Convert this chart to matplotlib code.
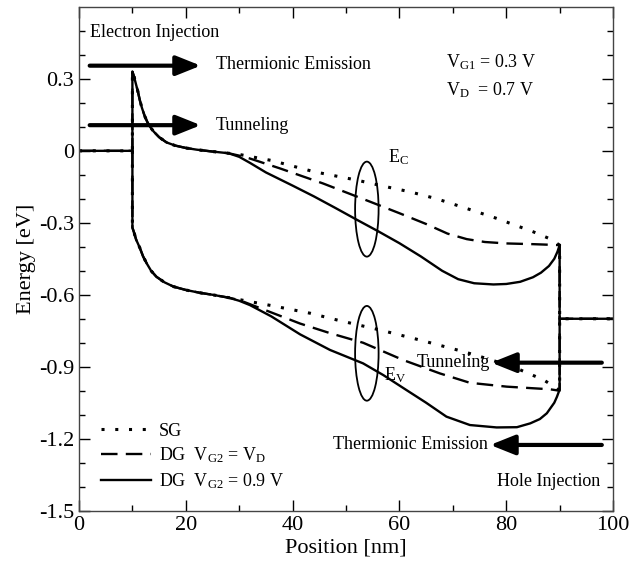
import matplotlib
matplotlib.use("Agg")
import matplotlib.pyplot as plt
from matplotlib.patches import Ellipse

plt.rcParams['font.family'] = ['Liberation Serif', 'DejaVu Serif']
plt.rcParams['mathtext.fontset'] = 'custom'
plt.rcParams['mathtext.rm'] = 'Liberation Serif'
plt.rcParams['mathtext.it'] = 'Liberation Serif:italic'
plt.rcParams['axes.unicode_minus'] = False

# ---------------- data ----------------
# metal contacts
src_x = [0, 10]
src_y = [0.0, 0.0]
drn_x = [90, 100]
drn_y = [-0.70, -0.70]

# common part of the bands near the source (x = 10..28 nm)
ec_common_x = [10, 10.3, 10.7, 11, 11.4, 11.8, 12.3, 12.8, 13.3, 14, 15, 16.4, 18, 20, 22, 25, 28]
ec_common_y = [0.33, 0.31, 0.275, 0.25, 0.21, 0.178, 0.145, 0.12, 0.10, 0.08, 0.057, 0.035, 0.022,
               0.012, 0.005, -0.003, -0.01]
ev_common_x = [10, 10.3, 10.7, 11.4, 12, 12.7, 13.5, 14.5, 16, 17.7, 20, 22.7, 25, 28]
ev_common_y = [-0.32, -0.34, -0.37, -0.405, -0.44, -0.47, -0.50, -0.525, -0.548, -0.566, -0.58,
               -0.592, -0.600, -0.612]

# SG
sg_ec_x = [30, 36, 44, 52, 58, 62, 67, 72, 78, 85, 88, 90]
sg_ec_y = [-0.015, -0.04, -0.087, -0.122, -0.152, -0.171, -0.20, -0.236, -0.28, -0.337, -0.365, -0.393]
sg_ev_x = [30, 36, 43.3, 48.3, 56.4, 63.9, 72, 77, 82, 87, 89.5, 90]
sg_ev_y = [-0.62, -0.645, -0.677, -0.705, -0.747, -0.789, -0.837, -0.87, -0.907, -0.955, -0.99, -1.0]

# DG, VG2 = VD
dg1_ec_x = [30, 32, 37.6, 45.7, 54.5, 60, 65, 69, 72.6, 76, 80, 85, 90]
dg1_ec_y = [-0.02, -0.032, -0.073, -0.136, -0.212, -0.26, -0.305, -0.345, -0.368, -0.38, -0.386, -0.389, -0.393]
dg1_ev_x = [30, 35, 41.4, 47, 53.2, 60.7, 67.6, 73.2, 80.1, 88.2, 90]
dg1_ev_y = [-0.622, -0.665, -0.72, -0.76, -0.80, -0.872, -0.928, -0.967, -0.983, -0.994, -1.0]

# DG, VG2 = 0.9 V
dg2_ec_x = [30, 32, 35, 40, 44, 48, 52, 56, 60, 64, 68, 71, 74, 77.6, 80, 82.6, 85, 86.5, 88, 89, 89.6, 90]
dg2_ec_y = [-0.025, -0.05, -0.09, -0.145, -0.19, -0.238, -0.287, -0.335, -0.385, -0.44, -0.50, -0.535,
            -0.552, -0.557, -0.555, -0.546, -0.527, -0.508, -0.48, -0.45, -0.42, -0.393]
dg2_ev_x = [30, 32, 36, 41.4, 47, 53.2, 57, 61.3, 65, 68.8, 73.2, 78.2, 82, 84.5, 86.3, 87.6, 89, 89.5, 90]
dg2_ev_y = [-0.625, -0.643, -0.69, -0.765, -0.83, -0.886, -0.935, -0.997, -1.05, -1.108, -1.143, -1.153,
            -1.152, -1.136, -1.118, -1.094, -1.05, -1.025, -0.995]

series_labels = ['SG',
                 r'DG  V$_{\mathregular{G2}}$ = V$_{\mathregular{D}}$',
                 r'DG  V$_{\mathregular{G2}}$ = 0.9 V']

x_ticks = [0, 20, 40, 60, 80, 100]
y_ticks = [-1.5, -1.2, -0.9, -0.6, -0.3, 0.0, 0.3]
y_tick_labels = ['-1.5', '-1.2', '-0.9', '-0.6', '-0.3', '0', '0.3']

# ---------------- figure ----------------
fig = plt.figure(figsize=(6.32, 5.61), dpi=100)
ax = fig.add_axes([0.125, 0.0897, 0.845, 0.898])

styles = [dict(ls=(0, (1, 3.5)), lw=2.2),
          dict(ls=(0, (7, 3.5)), lw=1.7),
          dict(ls='-', lw=1.7)]

data = [(sg_ec_x, sg_ec_y, sg_ev_x, sg_ev_y),
        (dg1_ec_x, dg1_ec_y, dg1_ev_x, dg1_ev_y),
        (dg2_ec_x, dg2_ec_y, dg2_ev_x, dg2_ev_y)]

handles = []
for (ecx, ecy, evx, evy), st, lab in zip(data, styles, series_labels):
    # conduction band path: source metal -> Ec -> drain metal
    px = src_x + ec_common_x + ecx + [drn_x[0]] + drn_x
    py = src_y + ec_common_y + ecy + [drn_y[0]] + drn_y
    h, = ax.plot(px, py, color='black', label=lab, **st)
    # valence band path
    qx = [src_x[1]] + ev_common_x + evx + [drn_x[0]]
    qy = [src_y[1]] + ev_common_y + evy + [drn_y[0]]
    ax.plot(qx, qy, color='black', **st)
    handles.append(h)

# ellipses marking the band groups
ax.add_patch(Ellipse((53.9, -0.243), 4.4, 0.396, fill=False, lw=1.3, color='black'))
ax.add_patch(Ellipse((53.9, -0.844), 4.4, 0.395, fill=False, lw=1.3, color='black'))

fs = 13
ax.text(57.8, -0.025, r'E$_{\mathregular{C}}$', fontsize=fs, va='center', ha='left')
ax.text(57.2, -0.935, r'E$_{\mathregular{V}}$', fontsize=fs, va='center', ha='left')

ax.text(2.0, 0.495, 'Electron Injection', fontsize=fs, va='center', ha='left')
ax.text(25.6, 0.36, 'Thermionic Emission', fontsize=fs, va='center', ha='left')
ax.text(25.6, 0.107, 'Tunneling', fontsize=fs, va='center', ha='left')
ax.text(68.8, 0.37, r'V$_{\mathregular{G1}}$ = 0.3 V', fontsize=fs, va='center', ha='left')
ax.text(68.8, 0.253, r'V$_{\mathregular{D}}$  = 0.7 V', fontsize=fs, va='center', ha='left')
ax.text(77.0, -0.882, 'Tunneling', fontsize=fs, va='center', ha='right')
ax.text(76.6, -1.226, 'Thermionic Emission', fontsize=fs, va='center', ha='right')
ax.text(97.6, -1.38, 'Hole Injection', fontsize=fs, va='center', ha='right')

arr = dict(arrowstyle='-|>,head_length=0.75,head_width=0.3', lw=3, color='black',
           mutation_scale=20, shrinkA=0, shrinkB=0)
ax.annotate('', xy=(22.8, 0.355), xytext=(2.0, 0.355), arrowprops=arr)
ax.annotate('', xy=(22.8, 0.107), xytext=(2.0, 0.107), arrowprops=arr)
ax.annotate('', xy=(77.2, -0.883), xytext=(97.9, -0.883), arrowprops=arr)
ax.annotate('', xy=(77.0, -1.226), xytext=(97.9, -1.226), arrowprops=arr)

leg = ax.legend(handles=handles, loc='lower left', bbox_to_anchor=(0.018, 0.014), frameon=False,
                fontsize=fs, handlelength=2.75, labelspacing=0.33, handletextpad=0.45,
                borderaxespad=0.3)

ax.set_xlim(0, 100)
ax.set_ylim(-1.5, 0.6)
ax.set_xticks(x_ticks)
ax.set_xticks(range(10, 100, 20), minor=True)
ax.set_yticks(y_ticks)
ax.set_yticklabels(y_tick_labels)
ax.set_yticks([-1.4, -1.3, -1.1, -1.0, -0.8, -0.7, -0.5, -0.4, -0.2, -0.1, 0.1, 0.2, 0.4, 0.5], minor=True)
ax.tick_params(which='both', direction='in', top=True, right=True, labelsize=16, width=1)
ax.tick_params(which='major', length=8)
ax.tick_params(which='minor', length=4.5)
for s in ax.spines.values():
    s.set_linewidth(1.0)
    s.set_color('#444444')

ax.set_xlabel('Position [nm]', fontsize=16, labelpad=3)
ax.set_ylabel('Energy [eV]', fontsize=16, labelpad=2)

fig.savefig('out.png', dpi=100)
